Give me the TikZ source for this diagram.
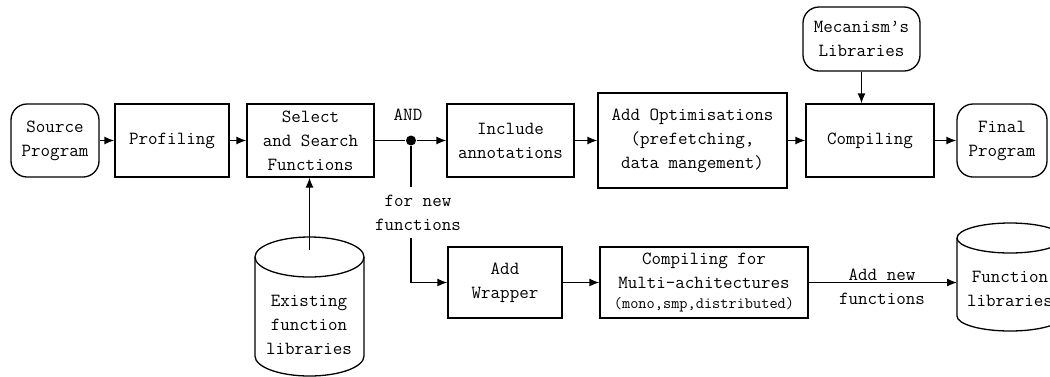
\documentclass[tikz,border=0pt]{standalone}
\usepackage{fontspec}
\usetikzlibrary{arrows.meta}
\begin{document}
\begin{tikzpicture}[x=1pt,y=-1pt,line width=1.3pt,
  txt/.style={align=center,inner sep=2pt,font=\ttfamily\fontsize{18.5}{24}\selectfont},
  box/.style={txt,draw},
  rbox/.style={box,rounded corners=16pt},
  arr/.style={-{Latex[length=10pt,width=8pt]}}]
\useasboundingbox (0,0) rectangle (1050,376);
\clip (0,0) rectangle (1050,376);
% top row
\node[rbox,minimum width=88pt,minimum height=73pt] (src) at (55,140.5) {Source\\Program};
\node[box,minimum width=114pt,minimum height=73pt] (prof) at (172,140.5) {Profiling};
\node[box,minimum width=127pt,minimum height=73pt] (sel) at (310.5,140.5) {Select\\and Search\\Functions};
\node[circle,fill,inner sep=0pt,minimum size=10pt] (dot) at (411,140.5) {};
\node[txt] (and) at (408,115) {AND};
\node[box,minimum width=127pt,minimum height=73pt] (inc) at (510.5,140.5) {Include\\annotations};
\node[box,minimum width=189pt,minimum height=95pt] (opt) at (692.5,140.5) {Add Optimisations\\(prefetching,\\data mangement)};
\node[box,minimum width=128pt,minimum height=73pt] (comp) at (870,140.5) {Compiling};
\node[rbox,minimum width=90pt,minimum height=73pt] (fin) at (1002,140.5) {Final\\Program};
\node[rbox,minimum width=117pt,minimum height=64pt] (mec) at (861.5,39) {Mecanism’s\\Libraries};
% bottom row
\node[box,minimum width=114pt,minimum height=71pt] (aw) at (505,282.5) {Add\\Wrapper};
\node[box,minimum width=208pt,minimum height=71pt] (cm) at (704,282.5) {Compiling for\\Multi-achitectures\\[-4pt]{\fontsize{15.9}{17}\selectfont(mono,smp,distributed)}};
\node[txt] (addnew) at (882,287) {Add new\\functions};
% left cylinder
\draw (255,257) -- (255,356) arc[start angle=180,end angle=0,x radius=54.5,y radius=20] -- (364,257);
\draw (309.5,257) ellipse[x radius=54.5,y radius=20];
\node[txt] (exlib) at (309,325) {Existing\\function\\libraries};
\coordinate (exin) at (309.5,250);
% right cylinder
\draw (957,238) -- (957,316) arc[start angle=180,end angle=0,x radius=53,y radius=15] -- (1063,238);
\draw (1010,238) ellipse[x radius=53,y radius=15];
\node[txt] (fnlib) at (1010,289) {Function\\libraries};
\coordinate (fnin) at (957,282.5);
% connectors
\draw[arr] (src) -- (prof);
\draw[arr] (prof) -- (sel);
\draw (sel.east) -- (dot);
\draw[arr] (dot) -- (inc);
\draw[arr] (inc) -- (opt);
\draw[arr] (opt) -- (comp);
\draw[arr] (comp) -- (fin);
\draw[arr] (mec.south) -- (mec.south |- comp.north);
\draw[arr] (exin) -- (exin |- sel.south);
\draw[arr] (dot) |- (aw.west);
\draw[arr] (aw) -- (cm);
\draw[arr] (cm.east) -- (fnin);
% label that interrupts the branch line
\node[txt,fill=white,minimum height=51pt] (fornew) at (418,212.5) {for new\\functions};
\end{tikzpicture}
\end{document}
